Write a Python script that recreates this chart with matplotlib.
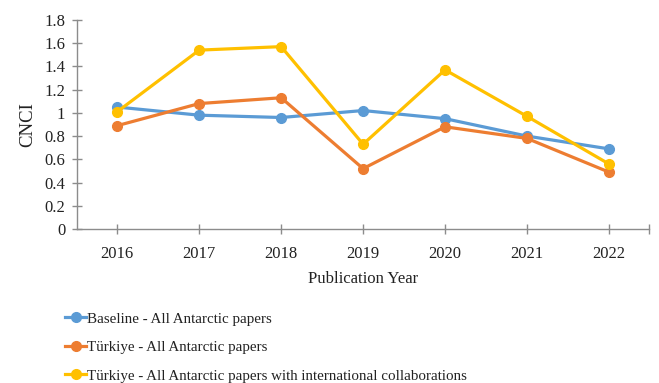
import matplotlib
matplotlib.use("Agg")
import matplotlib.pyplot as plt

years = ["2016", "2017", "2018", "2019", "2020", "2021", "2022"]
baseline = [1.05, 0.98, 0.96, 1.02, 0.95, 0.80, 0.69]
turkiye_all = [0.89, 1.08, 1.13, 0.52, 0.88, 0.78, 0.49]
turkiye_intl = [1.01, 1.54, 1.57, 0.73, 1.37, 0.97, 0.56]

series_names = [
    "Baseline - All Antarctic papers",
    "Türkiye - All Antarctic papers",
    "Türkiye - All Antarctic papers with international collaborations",
]
series_colors = ["#5B9BD5", "#ED7D31", "#FFC000"]

plt.rcParams["font.family"] = ["Liberation Serif", "DejaVu Serif"]

fig = plt.figure(figsize=(6.59, 3.83), dpi=100)
ax = fig.add_axes([0.117, 0.402, 0.868, 0.546])

x = list(range(len(years)))
for vals, name, col in zip([baseline, turkiye_all, turkiye_intl], series_names, series_colors):
    ax.plot(x, vals, color=col, lw=2.3, marker="o", markersize=7, label=name)

ax.set_ylim(0, 1.8)
ax.set_xlim(-0.49, len(years) - 0.51)
ax.set_yticks([i * 0.2 for i in range(10)])
ax.set_yticklabels(["0", "0.2", "0.4", "0.6", "0.8", "1", "1.2", "1.4", "1.6", "1.8"])
ax.set_xticks(x + [len(years) - 0.51])
ax.set_xticklabels(years + [""])

for s in ["top", "right"]:
    ax.spines[s].set_visible(False)
for s in ["left", "bottom"]:
    ax.spines[s].set_color("#8c8c8c")
    ax.spines[s].set_linewidth(1.0)
ax.tick_params(axis="both", direction="inout", length=7, width=1.0, color="#8c8c8c",
               labelsize=12, labelcolor="#222222")
ax.tick_params(axis="x", pad=9)
ax.tick_params(axis="y", pad=5)

ax.set_xlabel("Publication Year", fontsize=12, color="#222222", labelpad=6)
ax.set_ylabel("CNCI", fontsize=13.5, color="#222222", labelpad=6)

fig.legend(loc="upper left", bbox_to_anchor=(0.089, 0.201), frameon=False,
           fontsize=10.8, handlelength=1.45, handletextpad=0.05, labelspacing=1.0,
           borderaxespad=0, labelcolor="#222222")

fig.savefig("out.png", dpi=100)
